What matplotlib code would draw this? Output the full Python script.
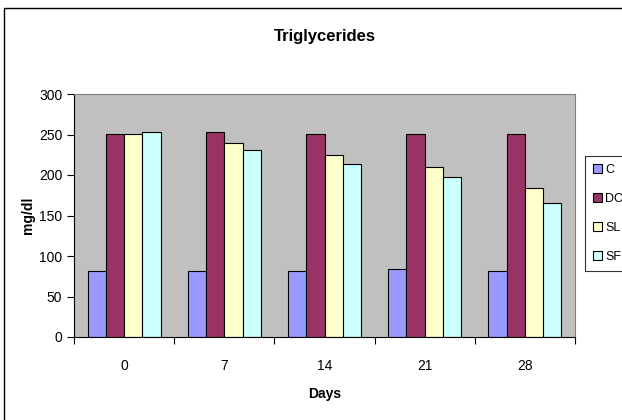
import matplotlib.pyplot as plt
import numpy as np
from matplotlib.patches import Rectangle

plt.rcParams['font.family'] = ['Liberation Sans', 'DejaVu Sans']

days = ['0', '7', '14', '21', '28']
series = ['C', 'DC', 'SL', 'SF']
c_vals = [82, 82, 82, 83.5, 82]
dc_vals = [251, 253, 251, 251, 251]
sl_vals = [251, 239, 225, 210, 183.5]
sf_vals = [253, 231, 214, 197, 166]
colors = ['#9999FF', '#993366', '#FFFFCC', '#CCFFFF']

fig = plt.figure(figsize=(6.22, 4.2), dpi=100)
ax = fig.add_axes([74 / 622, 1 - 337 / 420, (575 - 74) / 622, (337 - 94) / 420])
ax.set_facecolor('#C0C0C0')

x = np.arange(len(days))
w = 1 / 5.5
for i, (name, vals) in enumerate(zip(series, [c_vals, dc_vals, sl_vals, sf_vals])):
    ax.bar(x + (i - 1.5) * w, vals, w, color=colors[i], edgecolor='black', linewidth=0.8, label=name)

ax.set_xlim(-0.5, len(days) - 0.5)
ax.set_ylim(0, 300)
ax.set_yticks(range(0, 301, 50))
ax.set_xticks(np.arange(-0.5, len(days), 1))
ax.set_xticklabels([])
ax.set_xticks(x, minor=True)
ax.set_xticklabels(days, minor=True)
ax.tick_params(axis='x', which='minor', length=0, pad=16, labelsize=10)
ax.tick_params(axis='x', which='major', length=5, direction='out', color='black')
ax.tick_params(axis='y', length=5, direction='out', labelsize=10)

for s in ['top', 'right']:
    ax.spines[s].set_color('#808080')
for s in ['left', 'bottom']:
    ax.spines[s].set_color('black')

ax.set_xlabel('Days', fontsize=10, fontweight='bold', labelpad=10)
ax.set_ylabel('mg/dl', fontsize=10, fontweight='bold', labelpad=3)
fig.text(0.5 * (74 + 575) / 622, 1 - 36 / 420, 'Triglycerides', ha='center', va='center',
         fontsize=12, fontweight='bold')

leg = fig.legend(loc='upper left', bbox_to_anchor=(585 / 622, 1 - 156 / 420), frameon=True,
                 fancybox=False, edgecolor='black', fontsize=9, handlelength=0.7, handleheight=0.7,
                 handletextpad=0.25, labelspacing=1.35, borderpad=0.65, borderaxespad=0)
leg.get_frame().set_linewidth(0.8)

fig.patches.append(Rectangle((4 / 622, -0.1), 1.1, 1 - 8 / 420 + 0.1, transform=fig.transFigure,
                             fill=False, edgecolor='black', linewidth=1))

fig.savefig('out.png', dpi=100)
